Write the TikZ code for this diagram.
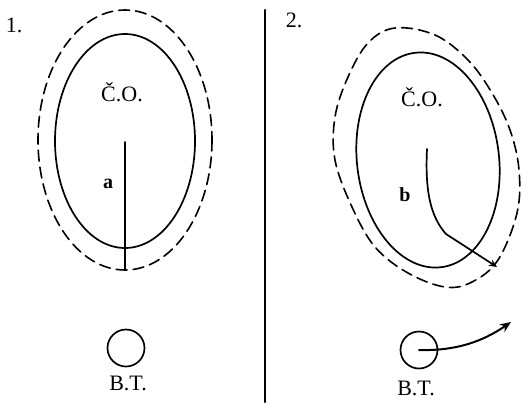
\documentclass[tikz,border=0pt]{standalone}
\usepackage{fontspec}
\setmainfont{Liberation Serif}
\usetikzlibrary{arrows.meta}

\begin{document}
\begin{tikzpicture}[line width=1.7pt, line cap=round, line join=round, x=1pt, y=-1pt,
    lab/.style={font=\fontsize{22}{26}\selectfont, inner sep=0pt},
    bt/.style={draw, circle, minimum size=37pt, inner sep=0pt, line width=1.7pt},
    halo/.style={dashed, dash pattern=on 11pt off 6pt, line width=1.6pt}]
  \useasboundingbox (0,0) rectangle (521,402);
  \draw[line width=2.2pt] (265,10) coordinate (top) -- (265,402) coordinate (bottom);

  % case 1: the pull runs straight down
  \node[lab] (n1) at (14,25) {1.};
  \draw[halo] (125,140) ellipse [x radius=87, y radius=130];
  \draw (125,141) ellipse [x radius=70, y radius=107];
  \node[lab] (co1) at (122,92) {Č.O.};
  \coordinate (a0) at (125,142);
  \coordinate (a1) at (125,270);
  \draw (a0) -- (a1);
  \node[lab, font=\fontsize{20}{24}\selectfont\bfseries] (la) at (108,184) {a};
  \node[bt] (bt1) at (126,348) {};
  \node[lab] (btl1) at (128,383) {B.T.};

  % case 2: the body is swung aside, the halo drawn freehand
  \node[lab] (n2) at (294,20) {2.};
  \draw[halo] plot[smooth cycle, tension=0.6] coordinates {
    (395,28) (435,35) (468,60) (492,93) (510,130) (519,170) (517,213) (498,260)
    (472,282) (445,287) (408,273) (375,247) (352,207) (335,160) (335,117) (348,77) (368,43)};
  \draw (428,160) ellipse [x radius=71, y radius=108, rotate=7];
  \node[lab] (co2) at (422,97) {Č.O.};
  \coordinate (b0) at (427,149);
  \coordinate (b1) at (446,234);
  \coordinate (b2) at (497,267);
  \draw[-{Stealth[length=8pt, width=7pt]}] (b0) .. controls (425,190) and (430,216) .. (b1) -- (b2);
  \node[lab, font=\fontsize{20}{24}\selectfont\bfseries] (lb) at (405,195) {b};
  \node[bt] (bt2) at (419,350) {};
  \coordinate (t2) at (511,322);
  \draw[line width=2pt, -{Stealth[length=11pt, width=9pt]}] (bt2.center) .. controls (455,351) and (482,342) .. (t2);
  \node[lab] (btl2) at (416,388) {B.T.};
\end{tikzpicture}
\end{document}
